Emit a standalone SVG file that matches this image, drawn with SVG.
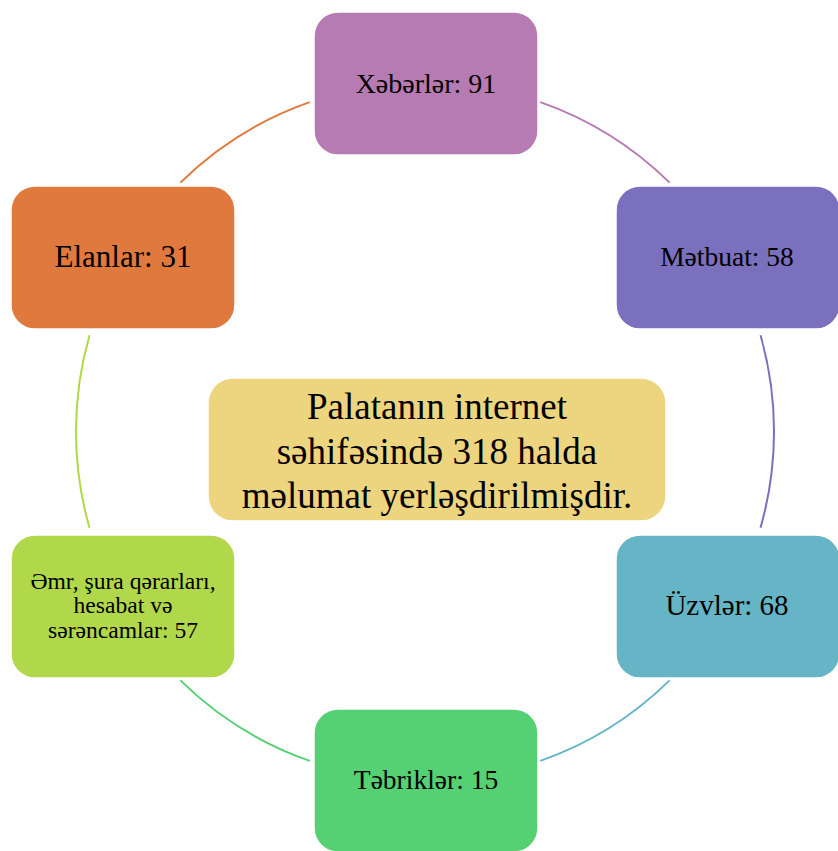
<svg xmlns="http://www.w3.org/2000/svg" width="838" height="851" viewBox="0 0 838 851">
<style>
.box{stroke:#ffffff;stroke-width:1.5}
.arc{fill:none;stroke-width:2}
text{font-family:"Liberation Serif","DejaVu Serif",serif;fill:#000;text-anchor:middle}
</style>
<rect width="838" height="851" fill="#ffffff"/>
<g id="connectors">
<path class="arc" stroke="#b77bb4" d="M540.3 102.1 A349 349 0 0 1 669.6 182.6"/>
<path class="arc" stroke="#7a70bd" d="M760.5 335.3 A349 349 0 0 1 760.5 527.7"/>
<path class="arc" stroke="#65b5c7" d="M669.6 680.4 A349 349 0 0 1 540.3 760.9"/>
<path class="arc" stroke="#55d073" d="M309.7 760.9 A349 349 0 0 1 180.4 680.4"/>
<path class="arc" stroke="#b0d84a" d="M89.5 527.7 A349 349 0 0 1 89.5 335.3"/>
<path class="arc" stroke="#e0793d" d="M180.4 182.6 A349 349 0 0 1 309.7 102.1"/>
</g>
<g id="center">
<rect class="box" x="208" y="378" width="458" height="143" rx="25" fill="#edd47f"/>
<text font-size="37"><tspan x="437" y="419">Palatanın internet</tspan><tspan x="437" y="464">səhifəsində 318 halda</tspan><tspan x="437" y="508">məlumat yerləşdirilmişdir.</tspan></text>
</g>
<g id="xeberler">
<rect class="box" x="314" y="12" width="224" height="143" rx="24" fill="#b77bb4"/>
<text x="426" y="92.5" font-size="28">Xəbərlər: 91</text>
</g>
<g id="metbuat">
<rect class="box" x="616" y="186" width="224" height="143" rx="24" fill="#7a70bd"/>
<text x="727" y="266" font-size="27.5">Mətbuat: 58</text>
</g>
<g id="uzvler">
<rect class="box" x="616" y="535" width="224" height="143" rx="24" fill="#65b5c7"/>
<text x="727" y="615" font-size="29">Üzvlər: 68</text>
</g>
<g id="tebrikler">
<rect class="box" x="314" y="709" width="224" height="143" rx="24" fill="#55d073"/>
<text x="426" y="789" font-size="27.5">Təbriklər: 15</text>
</g>
<g id="emr">
<rect class="box" x="11" y="535" width="224" height="143" rx="24" fill="#b0d84a"/>
<text font-size="23.6"><tspan x="123" y="589">Əmr, şura qərarları,</tspan><tspan x="123" y="613">hesabat və</tspan><tspan x="123" y="638">sərəncamlar: 57</tspan></text>
</g>
<g id="elanlar">
<rect class="box" x="11" y="186" width="224" height="143" rx="24" fill="#e0793d"/>
<text x="123" y="267" font-size="31">Elanlar: 31</text>
</g>
</svg>
